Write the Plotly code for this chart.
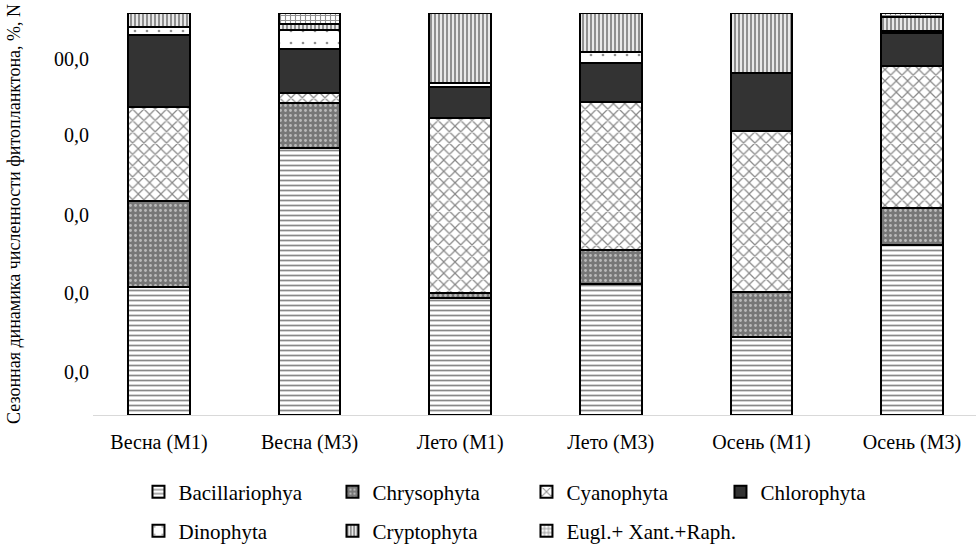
import plotly.graph_objects as go

categories = ["Весна (М1)", "Весна (М3)", "Лето (М1)", "Лето (М3)", "Осень (М1)", "Осень (М3)"]

bacillariophya = [31.8, 66.4, 29.1, 32.6, 19.4, 42.3]
chrysophyta = [21.4, 11.2, 1.2, 8.5, 11.2, 9.2]
cyanophyta = [23.4, 2.5, 43.5, 36.8, 40.0, 35.3]
chlorophyta = [17.9, 10.9, 7.7, 9.7, 14.4, 8.2]
dinophyta = [2.0, 4.7, 1.2, 2.7, 0.0, 0.5]
cryptophyta = [3.6, 1.5, 17.2, 9.7, 14.9, 3.5]
eugl_xant_raph = [0.0, 2.9, 0.0, 0.0, 0.0, 1.0]

y_tick_vals = [10.7, 30.3, 49.8, 69.7, 88.6]
y_tick_text = ["0,0", "0,0", "0,0", "0,0", "00,0"]

FONT = "Liberation Serif, Times New Roman, serif"

series = [
    ("Bacillariophya", bacillariophya, "white", dict(shape="-", fgcolor="#111111", size=5, solidity=0.35), "legend"),
    ("Chrysophyta", chrysophyta, "#777777", dict(shape=".", fgcolor="white", size=5, solidity=0.25), "legend"),
    ("Cyanophyta", cyanophyta, "white", dict(shape="x", fgcolor="#111111", size=8, solidity=0.28), "legend"),
    ("Chlorophyta", chlorophyta, "#333333", None, "legend"),
    ("Dinophyta", dinophyta, "white", dict(shape=".", fgcolor="#222222", size=12, solidity=0.04), "legend2"),
    ("Cryptophyta", cryptophyta, "white", dict(shape="|", fgcolor="#222222", size=4, solidity=0.6), "legend2"),
    ("Eugl.+ Xant.+Raph.", eugl_xant_raph, "white", dict(shape="+", fgcolor="#222222", size=5, solidity=0.4), "legend2"),
]

fig = go.Figure()
for name, vals, color, pattern, leg in series:
    marker = dict(color=color, line=dict(color="black", width=2))
    if pattern:
        pattern = dict(pattern)
        pattern["bgcolor"] = color
        marker["pattern"] = pattern
    fig.add_trace(go.Bar(
        x=categories, y=vals, name=name, marker=marker, width=0.41,
        legend=leg, legendwidth=149 if name != "Eugl.+ Xant.+Raph." else 220,
    ))

leg_common = dict(
    orientation="h", xanchor="left", yanchor="middle",
    traceorder="normal", entrywidthmode="pixels",
    font=dict(family=FONT, size=21, color="black"),
    bgcolor="rgba(0,0,0,0)", itemclick=False,
)

fig.update_layout(
    width=976, height=544,
    margin=dict(l=93, r=0, t=13, b=129, autoexpand=False),
    barmode="stack",
    plot_bgcolor="white", paper_bgcolor="white",
    font=dict(family=FONT, size=20, color="black"),
    legend=dict(x=0.0515, y=(415 - 492) / 402, **leg_common),
    legend2=dict(x=0.0515, y=(415 - 531) / 402, **leg_common),
    xaxis=dict(
        range=[-0.438, 5.425], showline=True, linecolor="#d9d9d9", linewidth=1,
        showgrid=False, ticks="", tickfont=dict(family=FONT, size=20, color="black"),
        automargin=False, ticklabelstandoff=9,
    ),
    yaxis=dict(
        range=[0, 100], showgrid=False, zeroline=False, showline=False, ticks="",
        tickvals=y_tick_vals, ticktext=y_tick_text, automargin=False,
        ticklabelstandoff=3,
        tickfont=dict(family=FONT, size=20, color="black"),
        title=dict(text="Сезонная динамика численности фитопланктона, %, N",
                   font=dict(family=FONT, size=18, color="black"), standoff=28),
    ),
)

fig.write_html(
    "out.html",
    config={"displayModeBar": False},
    post_script="document.body.style.margin='0';document.body.style.overflow='hidden';",
)
